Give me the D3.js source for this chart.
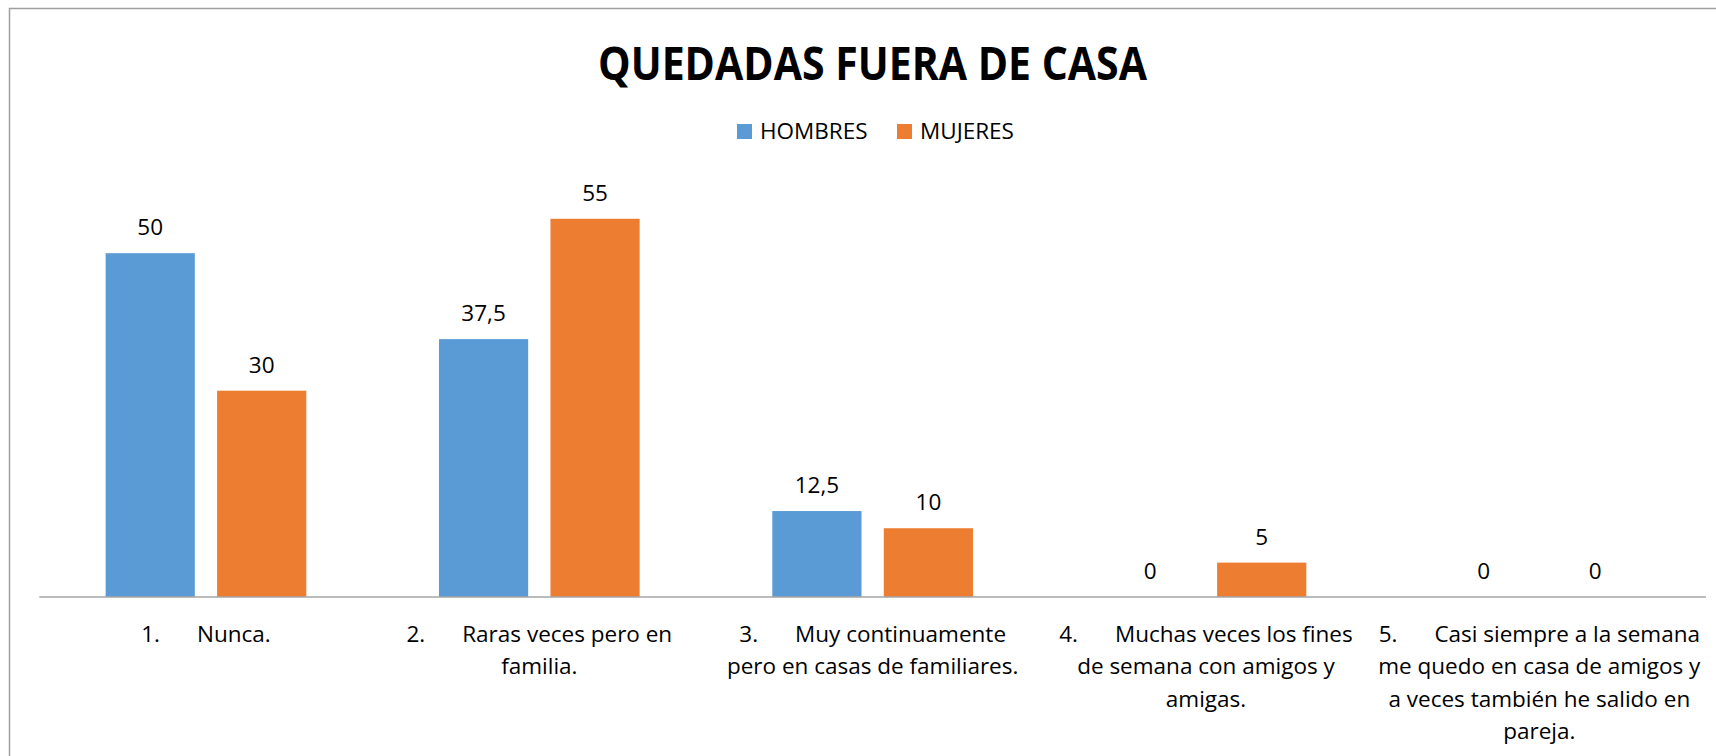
<!DOCTYPE html>
<html>
<head>
<meta charset="utf-8">
<script src="https://cdn.jsdelivr.net/npm/d3@7"></script>
<style>
	body { margin: 0; background: #fff; }
	svg { display: block; font-family: 'Open Sans', sans-serif; }
</style>
</head>
<body>
<div id="chart"></div>
<script>
// data
const title = 'QUEDADAS FUERA DE CASA';
const seriesNames = ['HOMBRES', 'MUJERES'];
const colours = ['#5b9bd5', '#ed7d31'];
const catNumbers = ['1.', '2.', '3.', '4.', '5.'];
const catLines = [
	['Nunca.'],
	['Raras veces pero en', 'familia.'],
	['Muy continuamente', 'pero en casas de familiares.'],
	['Muchas veces los fines', 'de semana con amigos y', 'amigas.'],
	['Casi siempre a la semana', 'me quedo en casa de amigos y', 'a veces también he salido en', 'pareja.']
];
const hombres = [50, 37.5, 12.5, 0, 0];
const mujeres = [30, 55, 10, 5, 0];
const yMax = 60;

const width = 1716;
const height = 756;
const margin = { top: 184.4, right: 10, bottom: 159, left: 39.3 };
const fontSize = 22.5;
const lineGap = 32.3;

const svg = d3.select('#chart')
	.append('svg')
	.attr('width', width)
	.attr('height', height);

// chart border (runs off the right and bottom edges)
svg.append('rect')
	.attr('x', 9.5)
	.attr('y', 8.5)
	.attr('width', width + 20)
	.attr('height', height + 20)
	.attr('fill', 'none')
	.attr('stroke', '#a0a0a0')
	.attr('stroke-width', 1.5);

const x0 = d3.scaleBand()
	.domain(d3.range(catNumbers.length))
	.range([margin.left, width - margin.right]);

const x1 = d3.scaleBand()
	.domain(seriesNames)
	.range([x0.bandwidth() * 0.199, x0.bandwidth() * 0.801])
	.paddingInner(0.2);

const y = d3.scaleLinear()
	.domain([0, yMax])
	.range([height - margin.bottom, margin.top]);

// title
svg.append('text')
	.attr('x', 872.5)
	.attr('y', 80)
	.attr('text-anchor', 'middle')
	.attr('font-size', 46)
	.attr('font-weight', 'bold')
	.attr('textLength', 549)
	.attr('lengthAdjust', 'spacingAndGlyphs')
	.text(title);

// legend
const legendX = [737, 897];
const legend = svg.append('g').attr('class', 'legend');
seriesNames.forEach((name, i) => {
	legend.append('rect')
		.attr('x', legendX[i])
		.attr('y', 124)
		.attr('width', 15)
		.attr('height', 15)
		.attr('fill', colours[i]);
	legend.append('text')
		.attr('x', legendX[i] + 23)
		.attr('y', 139.3)
		.attr('font-size', fontSize)
		.attr('fill', '#000')
		.text(name);
});

// bars
const rows = catNumbers.map((c, i) => ({ i, values: [hombres[i], mujeres[i]] }));

const groups = svg.append('g')
	.selectAll('g')
	.data(rows)
	.join('g')
	.attr('transform', d => `translate(${x0(d.i)},0)`);

groups.selectAll('rect')
	.data(d => d.values.map((v, k) => ({ key: seriesNames[k], value: v, k })))
	.join('rect')
	.attr('x', d => x1(d.key))
	.attr('y', d => y(d.value))
	.attr('width', x1.bandwidth())
	.attr('height', d => y(0) - y(d.value))
	.attr('fill', d => colours[d.k]);

groups.selectAll('text')
	.data(d => d.values.map((v, k) => ({ key: seriesNames[k], value: v })))
	.join('text')
	.attr('x', d => x1(d.key) + x1.bandwidth() / 2)
	.attr('y', d => y(d.value) - 18)
	.attr('text-anchor', 'middle')
	.attr('font-size', fontSize)
	.attr('fill', '#000')
	.text(d => String(d.value).replace('.', ','));

// baseline
svg.append('line')
	.attr('x1', margin.left)
	.attr('x2', width - margin.right)
	.attr('y1', y(0))
	.attr('y2', y(0))
	.attr('stroke', '#a6a6a6')
	.attr('stroke-width', 1.5);

// category labels
const cats = svg.append('g').attr('class', 'categories');
catNumbers.forEach((num, i) => {
	const cx = x0(i) + x0.bandwidth() / 2;
	const t = cats.append('text')
		.attr('text-anchor', 'middle')
		.attr('font-size', fontSize)
		.attr('fill', '#000');
	catLines[i].forEach((line, j) => {
		const lineY = y(0) + 45 + j * lineGap;
		if (j === 0) {
			t.append('tspan').attr('x', cx).attr('y', lineY).text(num);
			t.append('tspan').attr('dx', 37).text(line);
		} else {
			t.append('tspan').attr('x', cx).attr('y', lineY).text(line);
		}
	});
});
</script>
</body>
</html>
